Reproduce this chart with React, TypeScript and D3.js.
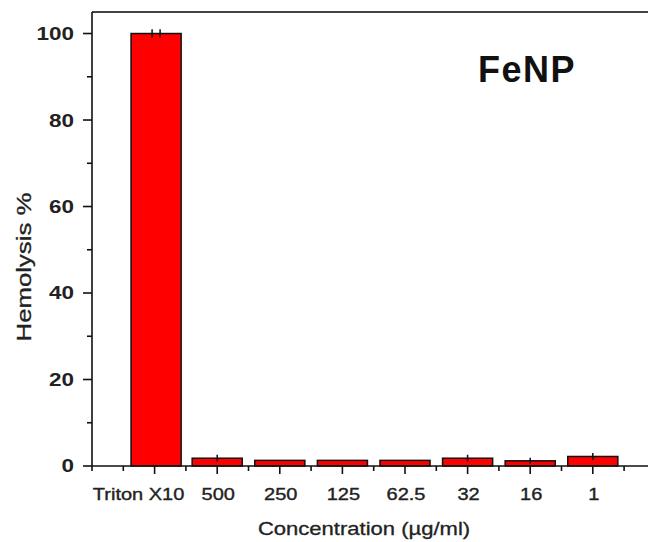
import React from "react";
import * as d3 from "d3";

const categories = ["Triton X10", "500", "250", "125", "62.5", "32", "16", "1"];
const hemolysis = [100, 1.8, 1.3, 1.3, 1.3, 1.8, 1.2, 2.2];
const errors = [1.0, 0.8, 0, 0, 0, 0.8, 0.7, 0.8];
const yMajorTicks = [0, 20, 40, 60, 80, 100];
const yMinorTicks = [10, 30, 50, 70, 90];
const xMinorTicks = [0, 0.5, 1.5, 2.5, 3.5, 4.5, 5.5, 6.5, 7.5, 8.5];
const title = "FeNP";
const xTitle = "Concentration (µg/ml)";
const yTitle = "Hemolysis %";

const W = 648;
const H = 542;
const FONT = "'Liberation Sans', Arial, sans-serif";
const TXT = "#222";
const SX = 1.25;

export default function App() {
  const x = d3.scaleLinear().domain([0, 9]).range([92, 655.4]);
  const y = d3.scaleLinear().domain([0, 105]).range([466, 11.9]);
  const barW = x(0.8) - x(0);

  return (
    <>
      <style>{"html,body{margin:0;padding:0;overflow:hidden;}"}</style>
      <svg
        width={W}
        height={H}
        style={{ position: "fixed", left: 0, top: 0, background: "#fff", overflow: "hidden", display: "block" }}
      >
        <rect x={0} y={0} width={W} height={H} fill="#fff" />
        {/* frame top */}
        <line x1={x(0)} x2={x(9)} y1={y(105)} y2={y(105)} stroke="#444" strokeWidth={2} />

        {/* bars */}
        {hemolysis.map((v, i) => (
          <rect
            key={"b" + i}
            x={x(i + 1) - barW / 2 + (i === 0 ? 1.5 : 0)}
            y={y(v)}
            width={barW}
            height={y(0) - y(v)}
            fill="#ff0000"
            stroke="#111"
            strokeWidth={1.5}
          />
        ))}
        {/* error bars */}
        {hemolysis.map((v, i) => {
          const e = errors[i];
          if (!e) return null;
          const cx = x(i + 1) + (i === 0 ? 1.5 : 0);
          const offs = i === 0 ? [-4, 4] : [0];
          return offs.map((o, k) => (
            <line
              key={"e" + i + "_" + k}
              x1={cx + o}
              x2={cx + o}
              y1={y(v + e)}
              y2={y(v - e)}
              stroke="#111"
              strokeWidth={1.5}
            />
          ));
        })}

        {/* y axis */}
        <line x1={x(0)} x2={x(0)} y1={y(105)} y2={y(0)} stroke="#111" strokeWidth={1.6} />
        {yMajorTicks.map((t) => (
          <g key={"ym" + t}>
            <line x1={x(0) - 9} x2={x(0)} y1={y(t)} y2={y(t)} stroke="#111" strokeWidth={1.6} />
            <g transform={`translate(${x(0) - 18},${y(t)}) scale(${SX},1)`}>
              <text
                textAnchor="end"
                dy="0.36em"
                fontFamily={FONT}
                fontWeight="bold"
                fontSize={18}
                fill={TXT}
              >
                {t}
              </text>
            </g>
          </g>
        ))}
        {yMinorTicks.map((t) => (
          <line key={"yn" + t} x1={x(0) - 5} x2={x(0)} y1={y(t)} y2={y(t)} stroke="#111" strokeWidth={1.6} />
        ))}

        {/* x axis */}
        <line x1={x(0)} x2={x(9)} y1={y(0)} y2={y(0)} stroke="#111" strokeWidth={1.6} />
        {categories.map((c, i) => (
          <g key={"xm" + i}>
            <line x1={x(i + 1)} x2={x(i + 1)} y1={y(0)} y2={y(0) + 8} stroke="#111" strokeWidth={1.6} />
            <g transform={`translate(${i === 0 ? x(i + 1) - 16 : x(i + 1) + 1},${y(0) + 34}) scale(${SX},1)`}>
              <text textAnchor="middle" fontFamily={FONT} fontSize={16} fontWeight="normal" stroke={TXT} strokeWidth={0.35} fill={TXT}>
                {c}
              </text>
            </g>
          </g>
        ))}
        {xMinorTicks.map((t) => (
          <line key={"xn" + t} x1={x(t)} x2={x(t)} y1={y(0)} y2={y(0) + 5} stroke="#111" strokeWidth={1.6} />
        ))}

        {/* axis titles */}
        <g transform={`translate(${(x(0) + x(8.5)) / 2 + 6},${535}) scale(${SX * 0.98},1)`}>
          <text textAnchor="middle" fontFamily={FONT} fontSize={18} stroke={TXT} strokeWidth={0.3} fill={TXT}>
            {xTitle}
          </text>
        </g>
        <g transform={`translate(${31},${267}) rotate(-90) scale(${SX * 1.03},1)`}>
          <text textAnchor="middle" fontFamily={FONT} fontSize={20} stroke={TXT} strokeWidth={0.3} fill={TXT}>
            {yTitle}
          </text>
        </g>

        {/* panel title */}
        <text
          x={478}
          y={82}
          fontFamily={FONT}
          fontWeight="bold"
          fontSize={36}
          letterSpacing={1.5}
          fill="#111"
        >
          {title}
        </text>
      </svg>
    </>
  );
}
